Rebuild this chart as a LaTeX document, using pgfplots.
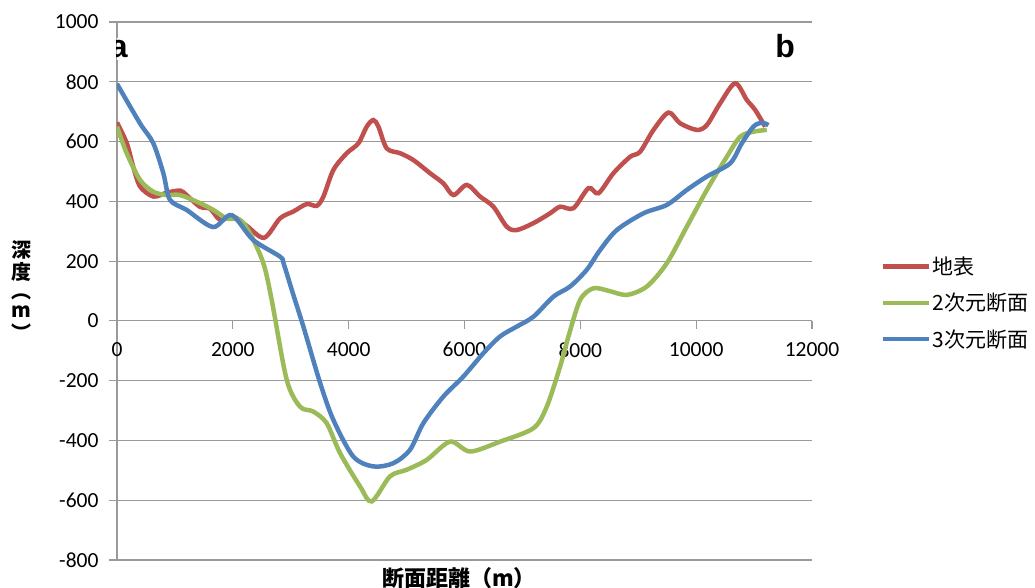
\documentclass[border=0pt]{standalone}
\usepackage{pgfplots}
\pgfplotsset{compat=1.18}
\usepackage{graphicx}
\usepackage{fontspec}
\setmainfont{Carlito}
\newfontfamily\jp{Noto Sans CJK JP}
\newfontfamily\arial{Liberation Sans}
\definecolor{xred}{HTML}{C0504D}
\definecolor{xgreen}{HTML}{9BBB59}
\definecolor{xblue}{HTML}{4F81BD}
\definecolor{xgrid}{HTML}{9A9A9A}

\pgfplotstableread{
x y
0 664
170 594
280 516
400 449
630 416
860 429
1090 436
1200 421
1430 382
1610 375
1780 338
2010 349
2240 318
2540 278
2815 343
3045 366
3276 391
3449 385
3564 416
3736 505
3967 561
4168 594
4312 650
4427 672
4513 650
4658 577
4888 561
5118 538
5406 494
5636 460
5809 421
6040 455
6269 416
6499 382
6730 315
6903 304
7190 327
7478 360
7651 382
7881 377
8140 444
8313 427
8571 494
8860 549
9033 566
9263 639
9522 697
9723 661
10011 639
10184 655
10414 728
10673 795
10875 739
11018 706
11191 650
}\redtable

\pgfplotstableread{
x y
0 650
167 561
397 472
627 432
858 421
1088 421
1433 394
1664 371
1894 343
2124 338
2297 293
2527 193
2671 70
2930 -197
3160 -287
3385 -303
3620 -342
3850 -442
4197 -554
4398 -604
4715 -520
5003 -498
5348 -465
5751 -404
6097 -437
6615 -404
7190 -359
7420 -287
7650 -153
7795 -52
7996 70
8226 109
8500 100
8802 87
9148 115
9493 193
9838 315
10184 438
10529 549
10759 616
10989 633
11219 639
}\greentable

\pgfplotstableread{
x y
0 793
397 661
625 595
800 494
915 405
1204 371
1658 314
1980 354
2350 271
2815 215
2880 190
3040 90
3218 -19
3506 -207
3735 -331
4080 -454
4427 -487
4772 -476
5060 -431
5290 -342
5636 -253
5981 -186
6326 -108
6615 -52
6903 -19
7190 14
7535 81
7823 115
8111 171
8341 237
8630 304
9090 360
9493 388
9838 438
10184 483
10586 527
10788 594
10989 650
11133 663
11248 655
}\bluetable

\begin{document}
\begin{tikzpicture}
\path[use as bounding box] (-117pt,-28pt) rectangle (918pt,560pt);
\begin{axis}[
  at={(0pt,0pt)}, anchor=south west,
  scale only axis, width=695pt, height=538pt,
  xmin=0, xmax=12000, ymin=-800, ymax=1000,
  axis x line=middle, axis y line=left,
  axis line style={-, draw=xgrid, line width=1.2pt},
  hide obscured x ticks=false,
  scaled x ticks=false, scaled y ticks=false,
  xtick={0,2000,...,12000},
  ytick={-800,-600,...,1000},
  tick align=outside,
  major tick length=8pt,
  tick style={draw=xgrid, line width=1.2pt},
  ymajorgrids,
  grid style={draw=xgrid, line width=1.2pt},
  /pgf/number format/1000 sep={},
  /pgf/number format/assume math mode=true,
  tick label style={font=\fontsize{21.5}{24}\selectfont, text=black},
  xticklabel style={anchor=north, yshift=-10pt},
  yticklabel style={anchor=east, xshift=-7pt},
  xlabel={断面距離（m）},
  xlabel style={at={(axis description cs:0.492,-0.0335)}, anchor=center, font=\jp\bfseries\fontsize{22}{24}\selectfont},
  ylabel={\begin{tabular}{@{}c@{}}深\\度\\︵\\m\\︶\end{tabular}},
  ylabel style={at={(axis description cs:-0.137,0.496)}, anchor=center, rotate=-90, font=\jp\bfseries\fontsize{20}{19}\selectfont},
  legend style={at={(axis description cs:1.098,0.478)}, anchor=west, draw=none, fill=none,
    font=\jp\fontsize{21}{25}\selectfont, row sep=13pt, inner sep=0pt,
    nodes={inner sep=2pt}},
  legend cell align=left,
  legend image code/.code={\draw[#1, line width=4.5pt] (0pt,0pt) -- (46pt,0pt);},
  every axis plot/.append style={line width=4.5pt, smooth, tension=0.5, no markers},
]
\addplot[xred] table[x=x,y=y] {\redtable};
\addlegendentry{地表}
\addplot[xgreen] table[x=x,y=y] {\greentable};
\addlegendentry{2次元断面}
\addplot[xblue] table[x=x,y=y] {\bluetable};
\addlegendentry{3次元断面}
\node[fill=white, inner sep=2pt, font=\arial\bfseries\fontsize{32}{32}\selectfont] at (axis cs:30,910) {a};
\node[inner sep=1pt, font=\arial\bfseries\fontsize{32}{32}\selectfont] at (axis cs:11536,918) {b};
\end{axis}
\end{tikzpicture}
\end{document}
